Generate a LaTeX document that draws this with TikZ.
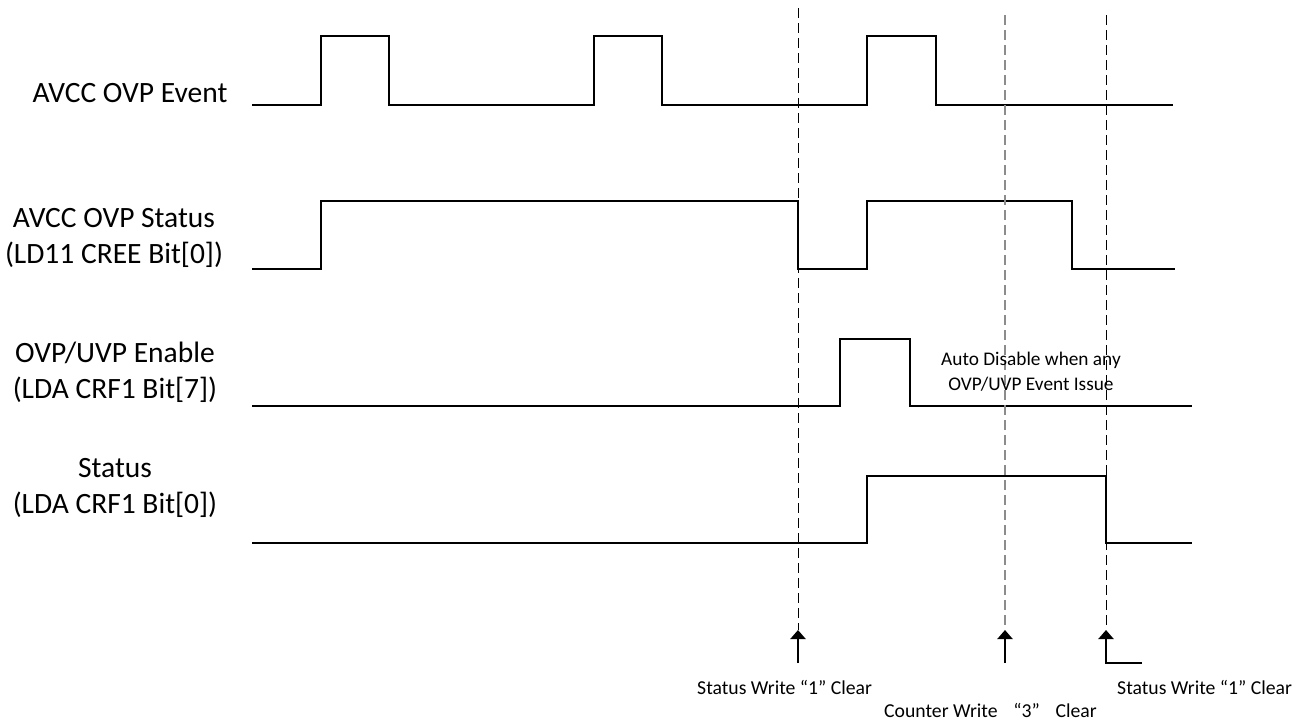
\documentclass[tikz,border=0pt]{standalone}
\usepackage{fontspec}
\setmainfont{Carlito}
\usetikzlibrary{arrows.meta}
\begin{document}
\begin{tikzpicture}[x=1pt,y=-1pt,
  sig/.style={line width=1.1pt,line join=miter},
  lbl/.style={font=\fontsize{29.5}{36}\selectfont,align=center,inner sep=0pt,anchor=base},
  small/.style={font=\fontsize{19.7}{25}\selectfont,inner sep=0pt,anchor=base west},
  note/.style={font=\fontsize{19.3}{25}\selectfont,align=center,inner sep=0pt,anchor=base},
  blkdash/.style={line width=1pt,dash pattern=on 10pt off 5pt},
  graydash/.style={line width=2.2pt,gray!90,dash pattern=on 10pt off 5pt},
  wr/.style={line width=2.2pt,-{Triangle[width=15pt,length=9pt]}}]
\useasboundingbox (0,0) rectangle (1303,724);
% labels (base anchor = baseline of the last line)
\node[lbl] (l1) at (130,102) {AVCC OVP Event};
\node[lbl] (l2) at (114,263) {AVCC OVP Status\\(LD11 CREE Bit[0])};
\node[lbl] (l3) at (115,398) {OVP/UVP Enable\\(LDA CRF1 Bit[7])};
\node[lbl] (l4) at (115,513) {Status\\(LDA CRF1 Bit[0])};
% signals
\draw[sig] (252,105) -- (321,105) -- (321,36) -- (389,36) -- (389,105) -- (594,105) -- (594,36) -- (662,36) -- (662,105) -- (867,105) -- (867,36) -- (936,36) -- (936,105) -- (1173,105);
\draw[sig] (252,269) -- (321,269) -- (321,201) -- (798,201) -- (798,269) -- (867,269) -- (867,201) -- (1072,201) -- (1072,269) -- (1175,269);
\draw[sig] (252,406) -- (840,406) -- (840,339) -- (910,339) -- (910,406) -- (1192,406);
\draw[sig] (252,543) -- (867,543) -- (867,476) -- (1106,476) -- (1106,543) -- (1192,543);
% dashed markers
\coordinate (t1) at (798,8);
\coordinate (t2) at (1005,15);
\coordinate (t3) at (1106,15);
\coordinate (b1) at (798,630);
\coordinate (b2) at (1005,630);
\coordinate (b3) at (1106,630);
\draw[blkdash] (t1) -- (b1);
\draw[graydash] (t2) -- (b2);
\draw[blkdash] (t3) -- (b3);
% write arrows
\coordinate (s1) at (798,663);
\coordinate (s2) at (1005,663);
\coordinate (s3) at (1106,663);
\coordinate (e3) at (1142,663);
\draw[wr] (s1) -- (b1);
\draw[wr] (s2) -- (b2);
\draw[wr] (e3) -- (s3) -- (b3);
% note
\node[note] (n1) at (1031,390) {Auto Disable when any\\OVP/UVP Event Issue};
% bottom labels
\node[small] (w1) at (697,694) {Status Write “1” Clear};
\node[small] (w2) at (884,717) {Counter Write\hspace{0.8em}“3”\hspace{0.8em}Clear};
\node[small] (w3) at (1117,694) {Status Write “1” Clear};
\end{tikzpicture}
\end{document}
